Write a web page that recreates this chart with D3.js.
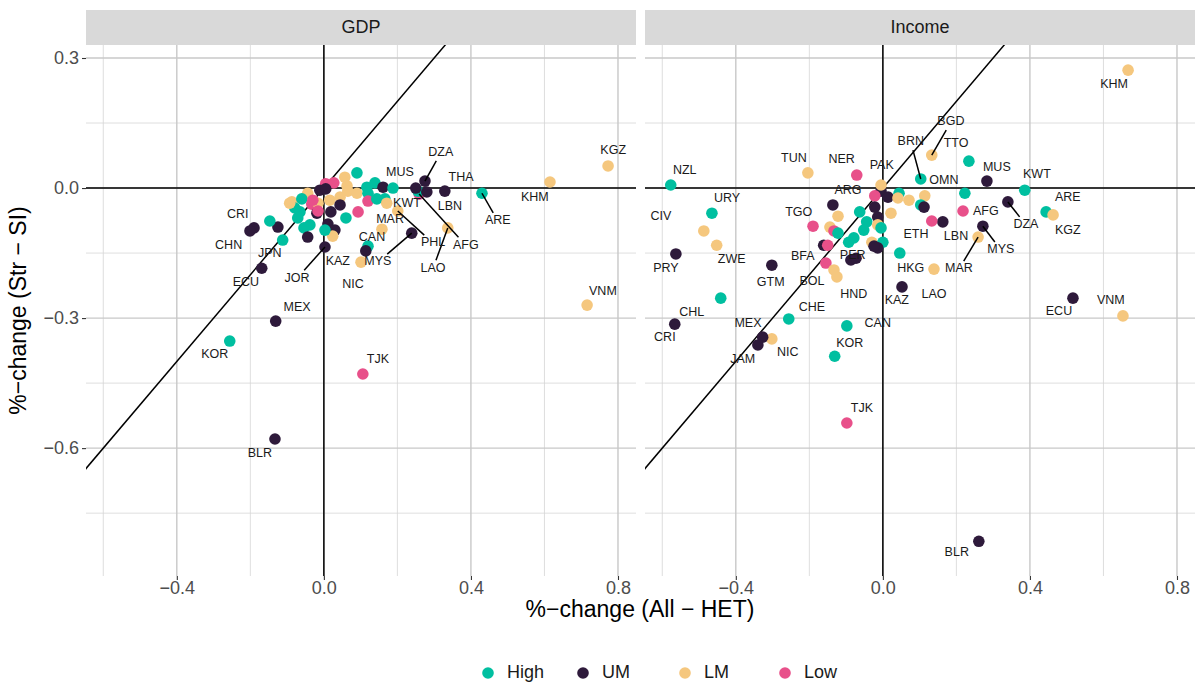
<!DOCTYPE html>
<html>
<head>
<meta charset="utf-8">
<script src="https://cdn.jsdelivr.net/npm/d3@7"></script>
<style>
  body { margin: 0; background: #fff; }
  svg { font-family: "Liberation Sans", Arial, sans-serif; }
</style>
</head>
<body>
<div id="chart"></div>
<script>
// groups and colours
var groups = ["High", "UM", "LM", "Low"];
var groupColors = ["#00BFA0", "#2E1A3B", "#F5C77E", "#E8508A"];
var panelTitles = ["GDP", "Income"];
var xTicks = [-0.4, 0, 0.4, 0.8];
var yTicks = [-0.6, -0.3, 0, 0.3];

// [code, group, x, y]  -- GDP panel
var gdpPoints = [
  ["", "High", 0.090, 0.035], ["", "LM", 0.057, 0.025], ["", "LM", 0.063, 0.005],
  ["", "Low", 0.027, 0.012], ["", "LM", -0.044, -0.012], ["", "LM", -0.087, -0.032],
  ["", "High", -0.060, -0.025], ["", "High", -0.065, -0.055], ["", "Low", -0.033, -0.037],
  ["", "LM", -0.016, -0.035], ["", "UM", -0.019, -0.058], ["", "Low", -0.016, -0.053],
  ["", "LM", 0.016, -0.028], ["", "LM", 0.044, -0.021], ["", "LM", 0.065, -0.007],
  ["", "UM", 0.044, -0.039], ["", "LM", 0.090, -0.012], ["", "High", 0.117, 0.002],
  ["", "High", 0.139, 0.012], ["", "High", 0.120, -0.012], ["", "UM", 0.161, 0.002],
  ["", "Low", 0.093, -0.055], ["", "Low", 0.120, -0.030], ["", "High", 0.144, -0.025],
  ["", "UM", 0.019, -0.055], ["", "High", 0.060, -0.069], ["", "UM", 0.011, -0.083],
  ["", "UM", 0.030, -0.097], ["", "LM", 0.024, -0.111], ["", "High", 0.003, -0.097],
  ["", "High", -0.038, -0.085], ["", "High", -0.054, -0.092], ["", "UM", -0.044, -0.113],
  ["", "UM", -0.125, -0.090], ["", "High", -0.147, -0.076], ["", "LM", 0.158, -0.095],
  ["", "High", -0.071, -0.069], ["", "High", -0.079, -0.046], ["", "LM", -0.093, -0.035],
  ["", "Low", -0.030, -0.028], ["", "Low", 0.005, 0.010], ["", "UM", -0.011, -0.005],
  ["", "UM", 0.005, -0.002],
  ["KWT", "High", 0.166, -0.025], ["MAR", "LM", 0.171, -0.035],
  ["KGZ", "LM", 0.773, 0.051], ["KHM", "LM", 0.615, 0.014], ["VNM", "LM", 0.716, -0.270],
  ["ARE", "High", 0.430, -0.012], ["THA", "UM", 0.329, -0.007],
  ["AFG", "Low", 0.259, -0.014], ["", "High", 0.256, -0.007], ["", "UM", 0.250, 0.000],
  ["DZA", "UM", 0.275, 0.016], ["LBN", "UM", 0.280, -0.009],
  ["LAO", "LM", 0.337, -0.092], ["PHL", "LM", 0.201, -0.053], ["MYS", "UM", 0.239, -0.104],
  ["MUS", "High", 0.188, 0.000], ["CAN", "High", 0.120, -0.134], ["KAZ", "UM", 0.114, -0.145],
  ["NIC", "LM", 0.101, -0.171], ["JOR", "UM", 0.003, -0.136],
  ["CRI", "UM", -0.190, -0.092], ["CHN", "UM", -0.201, -0.099], ["JPN", "High", -0.112, -0.120],
  ["ECU", "UM", -0.169, -0.185], ["MEX", "UM", -0.131, -0.307], ["KOR", "High", -0.256, -0.353],
  ["TJK", "Low", 0.106, -0.429], ["BLR", "UM", -0.133, -0.579]
];

// [code, labelX, labelY, segment]
var gdpLabels = [
  ["KGZ", 0.787, 0.085, 0], ["KHM", 0.574, -0.023, 0], ["VNM", 0.759, -0.238, 0],
  ["ARE", 0.473, -0.076, 1], ["THA", 0.373, 0.023, 0], ["DZA", 0.318, 0.081, 1],
  ["LBN", 0.343, -0.042, 0], ["AFG", 0.386, -0.132, 1], ["LAO", 0.297, -0.185, 1],
  ["PHL", 0.297, -0.127, 1], ["MYS", 0.147, -0.171, 1], ["MAR", 0.180, -0.074, 0],
  ["KWT", 0.226, -0.037, 0], ["MUS", 0.207, 0.035, 0], ["CAN", 0.131, -0.115, 0],
  ["KAZ", 0.038, -0.171, 0], ["NIC", 0.079, -0.224, 0], ["JOR", -0.073, -0.208, 1],
  ["CRI", -0.234, -0.062, 0], ["CHN", -0.259, -0.132, 0], ["JPN", -0.147, -0.152, 0],
  ["ECU", -0.212, -0.219, 0], ["MEX", -0.073, -0.275, 0], ["KOR", -0.297, -0.385, 0],
  ["TJK", 0.147, -0.397, 0], ["BLR", -0.174, -0.614, 0]
];

// Income panel
var incomePoints = [
  ["", "UM", -0.005, -0.007], ["", "UM", 0.014, -0.021], ["", "Low", -0.022, -0.018],
  ["", "High", 0.044, -0.012], ["", "LM", 0.041, -0.023], ["", "LM", 0.071, -0.028],
  ["", "LM", 0.114, -0.018], ["", "High", 0.103, -0.039], ["", "UM", 0.112, -0.044],
  ["", "UM", -0.022, -0.044], ["", "High", -0.063, -0.055], ["", "LM", 0.022, -0.058],
  ["", "LM", -0.122, -0.065], ["", "UM", -0.014, -0.067], ["", "High", -0.044, -0.078],
  ["", "High", -0.052, -0.097], ["", "LM", -0.014, -0.085], ["", "High", -0.005, -0.092],
  ["", "LM", -0.144, -0.090], ["", "Low", -0.133, -0.099], ["", "High", -0.122, -0.104],
  ["", "High", -0.079, -0.115], ["", "High", -0.093, -0.125], ["", "LM", -0.030, -0.125],
  ["", "High", 0.000, -0.125], ["", "UM", -0.014, -0.138], ["", "UM", -0.024, -0.134],
  ["", "UM", -0.161, -0.132], ["", "Low", -0.150, -0.132], ["", "UM", -0.087, -0.166],
  ["KHM", "LM", 0.667, 0.272], ["BGD", "LM", 0.133, 0.076], ["TTO", "High", 0.234, 0.062],
  ["BRN", "High", 0.103, 0.021], ["MUS", "UM", 0.283, 0.016], ["OMN", "High", 0.223, -0.012],
  ["KWT", "High", 0.386, -0.005], ["ARE", "High", 0.444, -0.055], ["KGZ", "LM", 0.463, -0.062],
  ["DZA", "UM", 0.340, -0.032], ["AFG", "Low", 0.218, -0.053], ["MYS", "UM", 0.272, -0.088],
  ["MAR", "LM", 0.259, -0.113], ["LBN", "UM", 0.163, -0.078], ["ETH", "Low", 0.133, -0.076],
  ["HKG", "High", 0.046, -0.150], ["LAO", "LM", 0.139, -0.187], ["KAZ", "UM", 0.052, -0.228],
  ["ECU", "UM", 0.517, -0.254], ["VNM", "LM", 0.653, -0.295], ["BLR", "UM", 0.261, -0.815],
  ["TJK", "Low", -0.098, -0.542], ["KOR", "High", -0.131, -0.388], ["CAN", "High", -0.098, -0.318],
  ["CHE", "High", -0.256, -0.302], ["NIC", "LM", -0.302, -0.348], ["MEX", "UM", -0.327, -0.344],
  ["JAM", "UM", -0.340, -0.362], ["CRI", "UM", -0.566, -0.314], ["CHL", "High", -0.441, -0.254],
  ["PRY", "UM", -0.563, -0.152], ["ZWE", "LM", -0.452, -0.132], ["CIV", "LM", -0.487, -0.099],
  ["URY", "High", -0.465, -0.058], ["NZL", "High", -0.577, 0.007], ["GTM", "UM", -0.302, -0.178],
  ["TUN", "LM", -0.204, 0.035], ["NER", "Low", -0.071, 0.030], ["PAK", "LM", -0.005, 0.007],
  ["ARG", "UM", -0.136, -0.039], ["TGO", "Low", -0.190, -0.088], ["BFA", "Low", -0.155, -0.173],
  ["BOL", "LM", -0.133, -0.189], ["HND", "LM", -0.125, -0.205], ["PER", "UM", -0.073, -0.162]
];

var incomeLabels = [
  ["KHM", 0.629, 0.238, 0], ["BGD", 0.185, 0.152, 1], ["TTO", 0.199, 0.102, 0],
  ["BRN", 0.076, 0.106, 1], ["MUS", 0.310, 0.048, 0], ["OMN", 0.166, 0.018, 0],
  ["KWT", 0.419, 0.030, 0], ["ARE", 0.503, -0.023, 0], ["KGZ", 0.503, -0.099, 0],
  ["DZA", 0.389, -0.085, 1], ["AFG", 0.280, -0.055, 0], ["MYS", 0.321, -0.143, 1],
  ["LBN", 0.199, -0.113, 0], ["MAR", 0.207, -0.187, 1], ["ETH", 0.090, -0.108, 0],
  ["HKG", 0.076, -0.187, 0], ["LAO", 0.139, -0.247, 0], ["KAZ", 0.038, -0.261, 0],
  ["ECU", 0.479, -0.286, 0], ["VNM", 0.620, -0.261, 0], ["BLR", 0.201, -0.842, 0],
  ["TJK", -0.057, -0.508, 0], ["KOR", -0.090, -0.358, 0], ["CAN", -0.014, -0.312, 0],
  ["CHE", -0.193, -0.277, 0], ["NIC", -0.259, -0.381, 0], ["MEX", -0.367, -0.312, 0],
  ["JAM", -0.381, -0.395, 0], ["CRI", -0.593, -0.346, 0], ["CHL", -0.520, -0.288, 0],
  ["PRY", -0.590, -0.185, 0], ["ZWE", -0.411, -0.166, 0], ["CIV", -0.604, -0.065, 0],
  ["URY", -0.424, -0.025, 0], ["NZL", -0.539, 0.039, 0], ["GTM", -0.305, -0.219, 0],
  ["TUN", -0.242, 0.067, 0], ["NER", -0.112, 0.065, 0], ["PAK", -0.003, 0.051, 0],
  ["ARG", -0.095, -0.007, 0], ["TGO", -0.229, -0.058, 0], ["BFA", -0.218, -0.159, 0],
  ["BOL", -0.193, -0.215, 0], ["HND", -0.079, -0.245, 0], ["PER", -0.082, -0.157, 0]
];

function main() {
  var W = 1200, H = 689;
  var top = 45, bottom = 576, panelW = 550;
  var panelX = [86, 645];
  var tickFont = 18, titleFont = 23, labelFont = 12.5;

  var color = d3.scaleOrdinal().domain(groups).range(groupColors);
  var fmt = function(d) { return d3.format(".1f")(d).replace("-", "\u2212"); };

  var svg = d3.select("#chart").append("svg")
    .attr("width", W).attr("height", H);

  var yScale = d3.scaleLinear().domain([-0.895, 0.330]).range([bottom, top]);

  var panels = [[gdpPoints, gdpLabels], [incomePoints, incomeLabels]];

  panels.forEach(function(p, pi) {
    var pts = p[0], labs = p[1];
    var x0 = panelX[pi];
    var xScale = d3.scaleLinear().domain([-0.647, 0.849]).range([x0, x0 + panelW]);

    var g = svg.append("g");
    var clipId = "clip" + pi;
    svg.append("clipPath").attr("id", clipId).append("rect")
      .attr("x", x0).attr("y", top).attr("width", panelW).attr("height", bottom - top);

    // strip
    g.append("rect").attr("x", x0).attr("y", 10).attr("width", panelW).attr("height", 35)
      .attr("fill", "#D9D9D9");
    g.append("text").attr("x", x0 + panelW / 2).attr("y", 28)
      .attr("text-anchor", "middle").attr("dominant-baseline", "middle")
      .attr("font-size", tickFont).attr("fill", "#1A1A1A").text(panelTitles[pi]);

    // minor grid
    var xMinor = [-0.6, -0.2, 0.2, 0.6];
    var yMinor = [-0.75, -0.45, -0.15, 0.15];
    g.selectAll(".xminor").data(xMinor).enter().append("line")
      .attr("x1", function(d) { return xScale(d); }).attr("x2", function(d) { return xScale(d); })
      .attr("y1", top).attr("y2", bottom).attr("stroke", "#D6D6D6").attr("stroke-width", 0.8);
    g.selectAll(".yminor").data(yMinor).enter().append("line")
      .attr("y1", function(d) { return yScale(d); }).attr("y2", function(d) { return yScale(d); })
      .attr("x1", x0).attr("x2", x0 + panelW).attr("stroke", "#D6D6D6").attr("stroke-width", 0.8);
    // major grid
    g.selectAll(".xmajor").data(xTicks).enter().append("line")
      .attr("x1", function(d) { return xScale(d); }).attr("x2", function(d) { return xScale(d); })
      .attr("y1", top).attr("y2", bottom).attr("stroke", "#C8C8C8").attr("stroke-width", 1.4);
    g.selectAll(".ymajor").data(yTicks).enter().append("line")
      .attr("y1", function(d) { return yScale(d); }).attr("y2", function(d) { return yScale(d); })
      .attr("x1", x0).attr("x2", x0 + panelW).attr("stroke", "#C8C8C8").attr("stroke-width", 1.4);

    // x axis
    var xAxis = g.append("g").attr("transform", "translate(0," + bottom + ")")
      .call(d3.axisBottom(xScale).tickValues(xTicks).tickSize(4).tickPadding(1).tickFormat(fmt));
    xAxis.attr("font-size", null).attr("font-family", null);
    xAxis.select(".domain").remove();
    xAxis.selectAll("line").attr("stroke", "#333333").attr("stroke-width", 1.1);
    xAxis.selectAll("text").style("font-size", tickFont + "px").attr("fill", "#4D4D4D");

    if (pi === 0) {
      var yAxis = g.append("g").attr("transform", "translate(" + x0 + ",0)")
        .call(d3.axisLeft(yScale).tickValues(yTicks).tickSize(4).tickPadding(3).tickFormat(fmt));
      yAxis.attr("font-size", null).attr("font-family", null);
      yAxis.select(".domain").remove();
      yAxis.selectAll("line").attr("stroke", "#333333").attr("stroke-width", 1.1);
      yAxis.selectAll("text").style("font-size", tickFont + "px").attr("fill", "#4D4D4D");
    }

    var plot = g.append("g").attr("clip-path", "url(#" + clipId + ")");

    // reference lines
    plot.append("line").attr("x1", x0).attr("x2", x0 + panelW)
      .attr("y1", yScale(0)).attr("y2", yScale(0)).attr("stroke", "#000").attr("stroke-width", 1.5);
    plot.append("line").attr("x1", xScale(0)).attr("x2", xScale(0))
      .attr("y1", top).attr("y2", bottom).attr("stroke", "#000").attr("stroke-width", 1.5);
    plot.append("line").attr("x1", xScale(-1)).attr("y1", yScale(-1))
      .attr("x2", xScale(1)).attr("y2", yScale(1)).attr("stroke", "#000").attr("stroke-width", 1.5);

    // points
    plot.selectAll(".pt").data(pts).enter().append("circle")
      .attr("cx", function(d) { return xScale(d[2]); })
      .attr("cy", function(d) { return yScale(d[3]); })
      .attr("r", 5.8)
      .attr("fill", function(d) { return color(d[1]); });

    // labels
    var byCode = {};
    pts.forEach(function(d) { if (d[0]) byCode[d[0]] = d; });

    labs.forEach(function(l) {
      var t = plot.append("text")
        .attr("x", xScale(l[1])).attr("y", yScale(l[2]))
        .attr("text-anchor", "middle").attr("dominant-baseline", "middle")
        .attr("font-size", labelFont).attr("fill", "#1A1A1A").text(l[0]);
      if (!l[3]) return;
      var pt = byCode[l[0]];
      var px = xScale(pt[2]), py = yScale(pt[3]);
      var lx = xScale(l[1]), ly = yScale(l[2]);
      var bb = t.node().getBBox();
      var hw = bb.width / 2 + 2, hh = bb.height / 2 + 1;
      var dx = px - lx, dy = py - ly;
      var s = Math.min(Math.abs(dx) > 0 ? hw / Math.abs(dx) : 1e9, Math.abs(dy) > 0 ? hh / Math.abs(dy) : 1e9);
      if (s >= 1) return;
      plot.insert("line", "text")
        .attr("x1", px).attr("y1", py)
        .attr("x2", lx + dx * s).attr("y2", ly + dy * s)
        .attr("stroke", "#000").attr("stroke-width", 1.5);
    });
  });

  // axis titles
  svg.append("text").attr("x", 640).attr("y", 611)
    .attr("text-anchor", "middle").attr("dominant-baseline", "middle")
    .attr("font-size", titleFont).attr("fill", "#000").text("%\u2212change (All \u2212 HET)");
  svg.append("text").attr("transform", "translate(20," + ((top + bottom) / 2) + ") rotate(-90)")
    .attr("text-anchor", "middle").attr("dominant-baseline", "middle")
    .attr("font-size", titleFont).attr("fill", "#000").text("%\u2212change (Str \u2212 SI)");

  // legend
  var legX = [488, 583, 685, 785];
  var leg = svg.append("g").selectAll("g").data(groups).enter().append("g")
    .attr("transform", function(d, i) { return "translate(" + legX[i] + ",673)"; });
  leg.append("circle").attr("r", 5.8).attr("fill", function(d) { return color(d); });
  leg.append("text").attr("x", 19).attr("dominant-baseline", "middle")
    .attr("font-size", tickFont).attr("fill", "#1A1A1A").text(function(d) { return d; });
}
main();
</script>
</body>
</html>
